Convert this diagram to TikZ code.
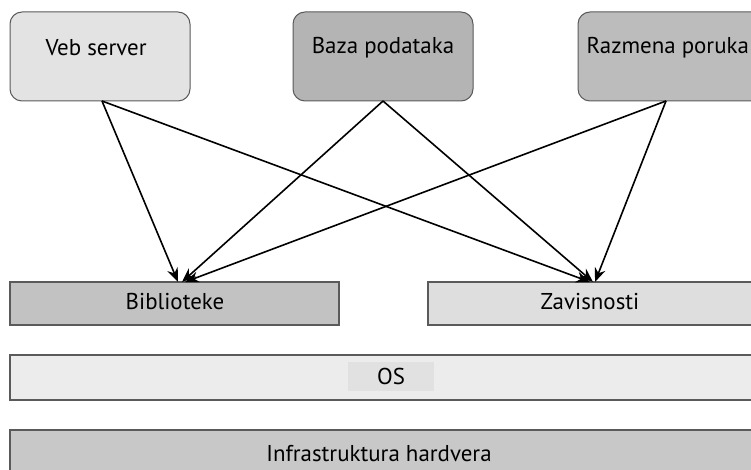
\documentclass[tikz,border=0pt]{standalone}
\usepackage{fontspec}
\setmainfont{PT Sans}
\usetikzlibrary{arrows.meta}
\definecolor{cveb}{HTML}{E3E3E3}
\definecolor{cbaza}{HTML}{B4B4B4}
\definecolor{craz}{HTML}{BCBCBC}
\definecolor{cbib}{HTML}{C2C2C2}
\definecolor{czav}{HTML}{DEDEDE}
\definecolor{cos}{HTML}{ECECEC}
\definecolor{coslab}{HTML}{E1E1E1}
\definecolor{cinf}{HTML}{C8C8C8}
\definecolor{cedge}{HTML}{5A5A5A}
\tikzset{
  app/.style={draw=cedge, line width=1bp, rounded corners=12bp, inner sep=0pt},
  layer/.style={draw=cedge, line width=1.2bp, inner sep=0pt},
  lbl/.style={font=\fontsize{23}{26}\selectfont, text=black},
  conn/.style={line width=1.6bp, -{Stealth[length=14bp,width=11bp]}}
}
\begin{document}
\begin{tikzpicture}[x=1bp,y=-1bp]
\useasboundingbox (0,0) rectangle (751,470);
% top boxes
\draw[app, fill=cveb] (10,12) rectangle (190,101);
\node[lbl, anchor=west] (veb) at (42,48) {Veb server};
\draw[app, fill=cbaza] (293,12) rectangle (473,101);
\node[lbl] (baza) at (383,48) {Baza podataka};
\draw[app, fill=craz] (578,12) rectangle (765,101);
\node[lbl, anchor=west] (raz) at (583,48) {Razmena poruka};
% anchor coordinates on the bottom edges
\coordinate (vebS) at (102,101);
\coordinate (bazaS) at (383,101);
\coordinate (razS) at (666,101);
% layers
\draw[layer, fill=cbib] (10,282) rectangle (339,325);
\node[lbl] (bib) at (175,302) {Biblioteke};
\draw[layer, fill=czav] (428,282) rectangle (760,325);
\node[lbl] (zav) at (590,302) {Zavisnosti};
\draw[layer, fill=cos] (10,355) rectangle (760,400);
\node[lbl, fill=coslab, minimum width=86bp, minimum height=29bp, inner sep=0pt] (os) at (391,376) {OS};
\draw[layer, fill=cinf] (10,430) rectangle (760,480);
\node[lbl] (inf) at (379,454) {Infrastruktura hardvera};
\coordinate (bibT1) at (178,282);
\coordinate (bibT2) at (182,282);
\coordinate (bibT3) at (185,282);
\coordinate (zavT1) at (590,282);
\coordinate (zavT2) at (593,282);
\coordinate (zavT3) at (595,282);
% connectors
\draw[conn] (vebS) -- (bibT1);
\draw[conn] (vebS) -- (zavT1);
\draw[conn] (bazaS) -- (bibT2);
\draw[conn] (bazaS) -- (zavT2);
\draw[conn] (razS) -- (bibT3);
\draw[conn] (razS) -- (zavT3);
\end{tikzpicture}
\end{document}
